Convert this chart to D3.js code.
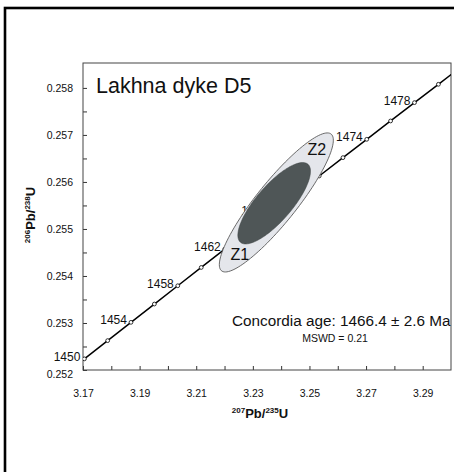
<!DOCTYPE html>
<html>
<head>
<meta charset="utf-8">
<script src="https://cdn.jsdelivr.net/npm/d3@7"></script>
<style>
  body { margin: 0; background: #fff; }
  svg { font-family: "Liberation Sans", Arial, sans-serif; }
</style>
</head>
<body>
<div id="chart"></div>
<script>
// concordia markers (age in Ma)
var ages = [1450, 1452, 1454, 1456, 1458, 1460, 1462, 1464, 1466, 1468, 1470, 1472, 1474, 1476, 1478, 1480, 1482];
var ratio207 = [3.17049, 3.17871, 3.18695, 3.19521, 3.20348, 3.21177, 3.22007, 3.22839, 3.23673, 3.24508,
                3.25345, 3.26184, 3.27024, 3.27866, 3.28710, 3.29555, 3.30402];
var ratio206 = [0.252237, 0.252625, 0.253014, 0.253403, 0.253792, 0.254181, 0.254570, 0.254959, 0.255348, 0.255738,
                0.256127, 0.256517, 0.256907, 0.257297, 0.257687, 0.258077, 0.258467];
var labelAges = [1450, 1454, 1458, 1462, 1466, 1470, 1474, 1478];

// error ellipses: data ellipse (light) and concordia age ellipse (dark)
var ellCx = [3.2383, 3.23753];
var ellCy = [0.255564, 0.255547];
var ellSx = [0.02014, 0.01283];
var ellSy = [0.001479, 0.000866];
var ellRho = [0.895, 0.785];

var spotNames = ["Z1", "Z2"];
var spotX = [3.2221, 3.2493];
var spotY = [0.25434, 0.256574];

var xMajor = [3.17, 3.19, 3.21, 3.23, 3.25, 3.27, 3.29];
var xMinor = [3.18, 3.20, 3.22, 3.24, 3.26, 3.28];
var yMajor = [0.252, 0.253, 0.254, 0.255, 0.256, 0.257, 0.258];
var yMinor = [0.2525, 0.2535, 0.2545, 0.2555, 0.2565, 0.2575];

var W = 454, H = 472;
var pLeft = 83, pTop = 63, pRight = 451, pBottom = 370;

var svg = d3.select("#chart").append("svg").attr("width", W).attr("height", H);

var x = d3.scaleLinear().domain([3.17, 3.30]).range([pLeft, pRight]);
var y = d3.scaleLinear().domain([0.252, 0.25853]).range([pBottom, pTop]);

// outer frame
svg.append("rect")
    .attr("x", 5).attr("y", 8).attr("width", 520).attr("height", 520)
    .attr("fill", "none").attr("stroke", "#000").attr("stroke-width", 2.6);

svg.append("defs").append("clipPath").attr("id", "clip")
    .append("rect")
    .attr("x", pLeft).attr("y", pTop).attr("width", pRight - pLeft).attr("height", pBottom - pTop);

// axes
svg.append("g").attr("transform", "translate(0," + pBottom + ")")
    .call(d3.axisBottom(x).tickValues(xMajor).tickSizeInner(-4).tickSizeOuter(0).tickPadding(20)
        .tickFormat(d3.format(".2f")));
svg.append("g").attr("transform", "translate(0," + pBottom + ")")
    .call(d3.axisBottom(x).tickValues(xMinor).tickSizeInner(-4).tickSizeOuter(0).tickFormat(""));
var gy = svg.append("g").attr("transform", "translate(" + pLeft + ",0)")
    .call(d3.axisLeft(y).tickValues(yMajor).tickSizeInner(-4).tickSizeOuter(0).tickPadding(10)
        .tickFormat(d3.format(".3f")));
svg.append("g").attr("transform", "translate(" + pLeft + ",0)")
    .call(d3.axisLeft(y).tickValues(yMinor).tickSizeInner(-4).tickSizeOuter(0).tickFormat(""));

svg.selectAll(".domain").remove();
svg.selectAll(".tick line").attr("stroke", "#333");
svg.selectAll(".tick text").attr("font-size", 10.5).attr("fill", "#111")
    .attr("font-family", "'Liberation Sans', Arial, sans-serif");
gy.selectAll(".tick text").filter(function(d) { return d === 0.252; }).attr("dy", "0.75em");

// plot box
svg.append("rect")
    .attr("x", pLeft).attr("y", pTop).attr("width", pRight - pLeft).attr("height", pBottom - pTop)
    .attr("fill", "none").attr("stroke", "#444").attr("stroke-width", 1);

// concordia curve
var plot = svg.append("g").attr("clip-path", "url(#clip)");
var pts = ages.map(function(a, i) { return [ratio207[i], ratio206[i]]; });
var line = d3.line()
    .x(function(d) { return x(d[0]); })
    .y(function(d) { return y(d[1]); });

plot.append("path").datum(pts)
    .attr("d", line)
    .attr("fill", "none").attr("stroke", "#000").attr("stroke-width", 1.5);

plot.selectAll("circle.mk").data(pts).enter().append("circle")
    .attr("class", "mk")
    .attr("cx", function(d) { return x(d[0]); })
    .attr("cy", function(d) { return y(d[1]); })
    .attr("r", 1.9)
    .attr("fill", "#fff").attr("stroke", "#000").attr("stroke-width", 0.8);

svg.selectAll("text.age").data(labelAges).enter().append("text")
    .attr("class", "age")
    .attr("x", function(a) { return x(ratio207[ages.indexOf(a)]) - 4; })
    .attr("y", function(a) { return y(ratio206[ages.indexOf(a)]) + 2; })
    .attr("text-anchor", "end")
    .attr("font-size", 12).attr("fill", "#111")
    .text(function(a) { return a; });

// ellipses
function ellipsePath(i) {
    var p = d3.range(0, 361, 3).map(function(deg) {
        var t = deg * Math.PI / 180;
        var ex = ellCx[i] + ellSx[i] * Math.cos(t);
        var ey = ellCy[i] + ellSy[i] * (ellRho[i] * Math.cos(t) + Math.sqrt(1 - ellRho[i] * ellRho[i]) * Math.sin(t));
        return [ex, ey];
    });
    return d3.line()
        .x(function(d) { return x(d[0]); })
        .y(function(d) { return y(d[1]); })
        .curve(d3.curveLinearClosed)(p);
}

svg.append("path").attr("d", ellipsePath(0))
    .attr("fill", "#e4e6eb").attr("stroke", "#5a5a5a").attr("stroke-width", 0.9);
svg.append("path").attr("d", ellipsePath(1))
    .attr("fill", "#4f5657").attr("stroke", "#3d4243").attr("stroke-width", 0.5);

svg.selectAll("text.spot").data(spotNames).enter().append("text")
    .attr("class", "spot")
    .attr("x", function(d, i) { return x(spotX[i]); })
    .attr("y", function(d, i) { return y(spotY[i]); })
    .attr("font-size", 16).attr("fill", "#111")
    .text(function(d) { return d; });

// annotations
svg.append("text").attr("x", 96).attr("y", 93)
    .attr("font-size", 21.5).attr("fill", "#111")
    .text("Lakhna dyke D5");

svg.append("text").attr("x", 232).attr("y", 326)
    .attr("font-size", 15.3).attr("fill", "#111")
    .text("Concordia age: 1466.4 \u00b1 2.6 Ma");

svg.append("text").attr("x", 335).attr("y", 341.5)
    .attr("text-anchor", "middle")
    .attr("font-size", 10.5).attr("fill", "#111")
    .text("MSWD = 0.21");

// axis titles
function isoTitle(sel, top1, bot1) {
    sel.attr("font-weight", "bold").attr("text-anchor", "middle").attr("fill", "#111");
    sel.append("tspan").attr("font-size", 8).attr("dy", -5).text(top1);
    sel.append("tspan").attr("font-size", 13).attr("dy", 5).text("Pb/");
    sel.append("tspan").attr("font-size", 8).attr("dy", -5).text(bot1);
    sel.append("tspan").attr("font-size", 13).attr("dy", 5).text("U");
}

isoTitle(svg.append("text").attr("x", 260).attr("y", 418), "207", "235");
isoTitle(svg.append("text").attr("transform", "translate(35,215) rotate(-90)"), "206", "238");
</script>
</body>
</html>
